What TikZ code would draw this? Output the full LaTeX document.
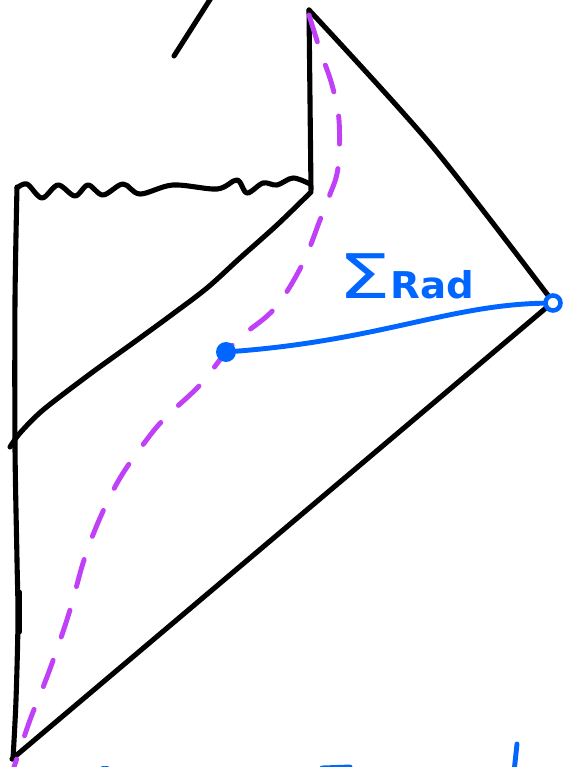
\documentclass[tikz,border=0pt]{standalone}
\usepackage{fontspec}
\setsansfont{DejaVu Sans}
\usepackage{xcolor}
\usetikzlibrary{calc}
\definecolor{penink}{HTML}{000000}
\definecolor{horizonpurple}{HTML}{C040F8}
\definecolor{radblue}{HTML}{0066FF}
\tikzset{
  edge/.style={draw=penink, line width=2.9pt, line cap=round, line join=round},
  horizon/.style={draw=horizonpurple, line width=2.8pt, line cap=round, dash pattern=on 16pt off 14pt},
  slice/.style={draw=radblue, line width=2.8pt, line cap=round},
  dotpt/.style={circle, fill=radblue, inner sep=0pt, minimum size=0.4cm},
  ringpt/.style={circle, draw=radblue, fill=white, line width=2.6pt, inner sep=0pt, minimum size=0.3cm},
  slicelabel/.style={text=radblue, font=\sffamily, inner sep=0pt, anchor=base west}
}

\begin{document}
\begin{tikzpicture}[x=0.02cm, y=-0.02cm]
\useasboundingbox (0,0) rectangle (566,767);
\clip (0,0) rectangle (566,767);
% corners of the diagram
\coordinate (top) at (309,10);
\coordinate (kink) at (311,190);
\coordinate (wavyleft) at (17,187);
\coordinate (right) at (553,302);
\coordinate (bottom) at (12,759);
\coordinate (cross) at (10,447);
% black boundary
\draw[edge] (211,-2) -- (174,56);
\draw[edge] (top) -- (kink);
\draw[edge] plot[smooth, tension=0.5] coordinates {(309,10) (432,146) (553,302)};
\draw[edge] (right) -- (bottom);
\draw[edge] plot[smooth] coordinates {(17,187) (15,300) (15,447) (17,560) (18,620) (16,700) (13,759)};
\draw[edge] (19,592) -- (19,632);
\draw[edge] plot[smooth] coordinates {(311,192) (277,225) (240,258) (207,288) (170,316) (133,343) (90,374) (43,410) (20,433) (10,447)};
\draw[edge] plot[smooth, tension=0.55] coordinates {(17,188) (27,184) (42,198) (58,185) (75,196) (88,185) (103,195) (123,184) (140,194) (173,185) (217,189) (237,180) (247,193) (263,183) (277,185) (293,178) (310,184)};
% purple horizon
\draw[horizon] plot[smooth, tension=0.6] coordinates {(309,15) (320,50) (332,85) (339,120) (338,168) (329,197) (320,220) (302,265) (275,308) (243,335) (226,352) (200,385) (165,418) (145,442) (120,478) (100,518) (84,560) (70,610) (55,655) (42,690) (30,720) (14,767)};
% blue slice
\node[dotpt] (sigl) at (226,352) {};
\node[ringpt] (sigr) at (553,303) {};
\draw[slice] (sigl) .. controls (380,340) and (450,305) .. (sigr);
\node[slicelabel] (sigmarad) at (338,298) {\fontsize{35}{35}\selectfont\scalebox{1.35}[1]{Σ}\fontsize{21}{21}\selectfont\bfseries\scalebox{1.05}[1]{Rad}};
% strokes cut at the lower edge
\draw[slice] (517,744) -- (514,772);
\draw[slice] (322,768) -- (350,767);
\draw[slice] (103,768) -- (107,768);
\end{tikzpicture}
\end{document}
